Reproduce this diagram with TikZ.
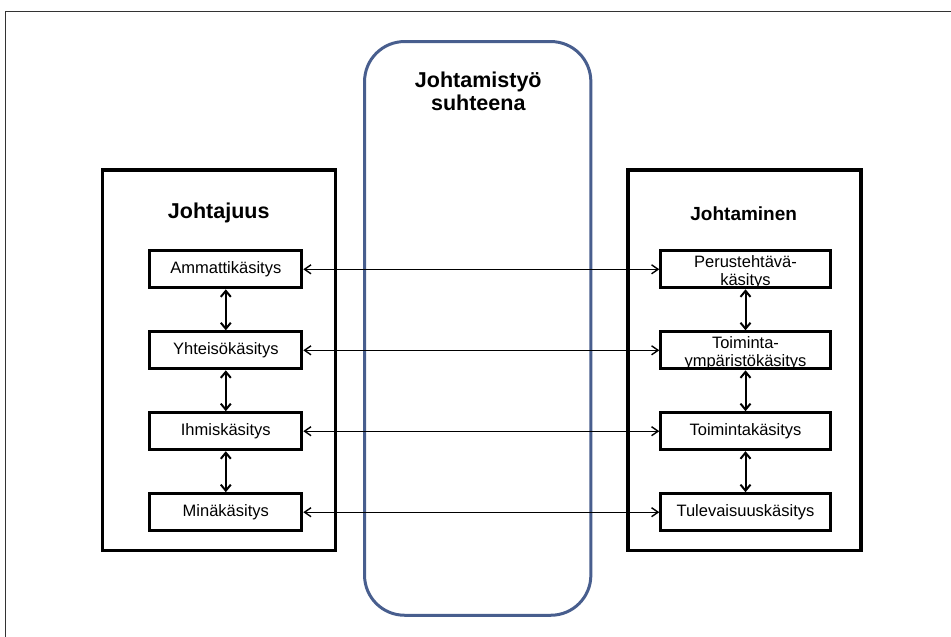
\documentclass[tikz,border=0pt]{standalone}
\usepackage{fontspec}
\setmainfont{Liberation Sans}
\usetikzlibrary{arrows.meta}
\definecolor{bandblue}{RGB}{72,94,142}
\begin{document}
\begin{tikzpicture}[x=1pt,y=-1pt,
  panel/.style={draw, line width=3.5pt, minimum width=233pt, minimum height=380.5pt, inner sep=0pt},
  band/.style={draw=bandblue, line width=3pt, rounded corners=40pt, minimum width=226.3pt, minimum height=573.7pt, inner sep=0pt},
  concept/.style={draw, line width=3pt, minimum height=37pt, inner sep=0pt,
    font=\fontsize{16.5pt}{18pt}\selectfont},
  lconcept/.style={concept, minimum width=152pt},
  rconcept/.style={concept, minimum width=169.4pt},
  twoline/.style={align=center, inner sep=0pt, font=\fontsize{16.5pt}{18pt}\selectfont},
  paneltitle/.style={anchor=base, inner sep=0pt, font=\bfseries\fontsize{19pt}{21pt}\selectfont},
  bigtitle/.style={anchor=base, inner sep=0pt, font=\bfseries\fontsize{21.5pt}{23pt}\selectfont},
  hlink/.style={line width=1.4pt, {Straight Barb[length=6.5pt,width=9pt]}-{Straight Barb[length=6.5pt,width=9pt]}},
  vlink/.style={line width=2pt, {Straight Barb[length=6pt,width=10pt]}-{Straight Barb[length=6pt,width=10pt]}}
]
\useasboundingbox (0,0) rectangle (951,637);

% page frame (open at right and bottom)
\draw[line width=1pt, black!80] (5,637) -- (5,11) -- (951,11);

% central band
\node[band] (band) at (477.7,328.4) {};
\node[bigtitle] (bandA) at (478.3,87) {Johtamistyö};
\node[bigtitle] (bandB) at (478.3,110) {suhteena};

% side panels
\node[panel] (left) at (219.2,360.3) {};
\node[panel] (right) at (744.4,360.3) {};
\node[bigtitle] (lefttitle) at (218.7,218) {Johtajuus};
\node[paneltitle] (righttitle) at (743.7,220) {Johtaminen};

% left concepts
\node[lconcept] (L1) at (225.8,269.3) {Ammattikäsitys};
\node[lconcept] (L2) at (225.8,350.3) {Yhteisökäsitys};
\node[lconcept] (L3) at (225.8,431.2) {Ihmiskäsitys};
\node[lconcept] (L4) at (225.8,512.2) {Minäkäsitys};

% right concepts
\node[rconcept] (R1) at (745.5,269.3) {};
\node[twoline] (R1text) at ([yshift=-2.5pt]R1.center) {Perustehtävä-\\käsitys};
\node[rconcept] (R2) at (745.5,350.3) {};
\node[twoline] (R2text) at ([yshift=-2.5pt]R2.center) {Toiminta-\\ympäristökäsitys};
\node[rconcept] (R3) at (745.5,431.2) {Toimintakäsitys};
\node[rconcept] (R4) at (745.5,512.2) {Tulevaisuuskäsitys};

% horizontal links
\foreach \i in {1,...,4} \draw[hlink] (L\i.east) -- (R\i.west);

% vertical links
\foreach \a/\b in {1/2,2/3,3/4} {
  \draw[vlink] (L\a.south) -- (L\b.north);
  \draw[vlink] (R\a.south) -- (R\b.north);
}
\end{tikzpicture}
\end{document}
